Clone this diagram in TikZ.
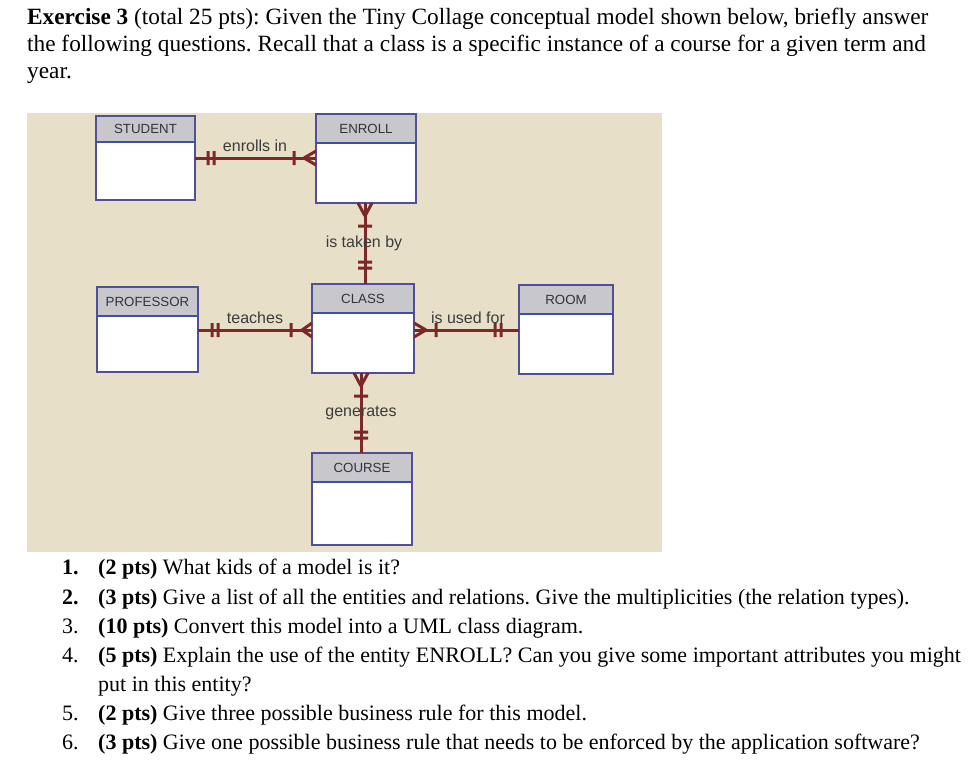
\documentclass[tikz,border=0pt]{standalone}
\usepackage{fontspec}
\setmainfont{Liberation Serif}
\newfontfamily\dsans{Liberation Sans}
\definecolor{relc}{RGB}{125,40,40}
\definecolor{labc}{RGB}{60,60,60}
\definecolor{hdc}{RGB}{50,50,60}
\definecolor{bgc}{RGB}{232,223,200}
\definecolor{hfill}{RGB}{200,200,204}
\definecolor{ebord}{RGB}{80,80,150}
\definecolor{hline}{RGB}{60,80,170}
\begin{document}
\frenchspacing
\begin{tikzpicture}[x=1pt,y=-1pt,
  rel/.style={draw=relc,line width=3pt},
  lab/.style={font=\dsans\fontsize{16}{16}\selectfont,text=labc,inner sep=0},
  hd/.style={font=\dsans\fontsize{13.3}{13}\selectfont,text=hdc,inner sep=0},
  tx/.style={anchor=base west,inner sep=0,font=\fontsize{23.3}{24}\selectfont},
  lt/.style={anchor=base west,inner sep=0,font=\fontsize{22}{22}\selectfont}]
\useasboundingbox (0,0) rectangle (976,765);
\fill[white] (0,0) rectangle (976,765);
\fill[bgc] (27,113) rectangle (662,552);
% entities
\def\entity#1#2#3#4#5#6#7{%
  \fill[white] (#2,#3) rectangle (#4,#5);
  \fill[hfill] (#2,#3) rectangle (#4,#6);
  \draw[ebord,line width=2pt] (#2,#3) rectangle (#4,#5);
  \draw[hline,line width=2pt] (#2,#6) -- (#4,#6);
  \node[hd] (#1) at ({(#2+#4)/2},{(#3+#6)/2}) {#7};
}
\entity{student}{96}{116}{195}{200}{142}{STUDENT}
\entity{enroll}{316}{114}{416}{203}{143}{ENROLL}
\entity{professor}{97}{287}{198}{372}{316}{PROFESSOR}
\entity{class}{312}{284}{414}{373}{313}{CLASS}
\entity{room}{519}{285}{613}{374}{314}{ROOM}
\entity{course}{312}{453}{412}{545}{482}{COURSE}
% relationships
\coordinate (a1) at (195,158); \coordinate (a2) at (316,158);
\draw[rel] (a1) -- (a2);
\draw[rel] (208,151)--(208,165) (214,151)--(214,165) (294,151)--(294,165)
  (304,158)--(316,151) (304,158)--(316,165);
\node[lab] (l1) at (255,146) {enrolls in};
\coordinate (b1) at (365,203); \coordinate (b2) at (365,284);
\draw[rel] (b1) -- (b2);
\draw[rel] (365,216)--(358,203) (365,216)--(372,203) (358,226)--(372,226)
  (358,262)--(372,262) (358,268)--(372,268);
\node[lab] (l2) at (364,243) {is taken by};
\coordinate (c1) at (198,330); \coordinate (c2) at (312,330);
\draw[rel] (c1) -- (c2);
\draw[rel] (212,323)--(212,337) (218,323)--(218,337) (291,323)--(291,337)
  (302,330)--(312,323) (302,330)--(312,337);
\node[lab] (l3) at (255,318) {teaches};
\coordinate (d1) at (414,330); \coordinate (d2) at (519,330);
\draw[rel] (d1) -- (d2);
\draw[rel] (426,330)--(414,323) (426,330)--(414,337) (436,323)--(436,337)
  (495,323)--(495,337) (501,323)--(501,337);
\node[lab] (l4) at (468,318) {is used for};
\coordinate (e1) at (361,373); \coordinate (e2) at (361,453);
\draw[rel] (e1) -- (e2);
\draw[rel] (361,386)--(354,373) (361,386)--(368,373) (354,396)--(368,396)
  (354,432)--(368,432) (354,438)--(368,438);
\node[lab] (l5) at (361,413) {generates};
% text
\node[tx] (t1) at (27,25) {\textbf{Exercise 3} (total 25 pts): Given the Tiny Collage conceptual model shown below, briefly answer};
\node[tx] (t2) at (27,52) {the following questions. Recall that a class is a specific instance of a course for a given term and};
\node[tx] (t3) at (27,79) {year.};
\node[lt] (n1) at (62,574) {\textbf{1.}}; \node[lt] (q1) at (98,574) {\textbf{(2 pts)} What kids of a model is it?};
\node[lt] (n2) at (62,604) {\textbf{2.}}; \node[lt] (q2) at (98,604) {\textbf{(3 pts)} Give a list of all the entities and relations. Give the multiplicities (the relation types).};
\node[lt] (n3) at (62,633) {3.}; \node[lt] (q3) at (98,633) {\textbf{(10 pts)} Convert this model into a UML class diagram.};
\node[lt] (n4) at (62,662) {4.}; \node[lt] (q4) at (98,662) {\textbf{(5 pts)} Explain the use of the entity ENROLL? Can you give some important attributes you might};
\node[lt] (q4b) at (98,691) {put in this entity?};
\node[lt] (n5) at (62,720) {5.}; \node[lt] (q5) at (98,720) {\textbf{(2 pts)} Give three possible business rule for this model.};
\node[lt] (n6) at (62,749) {6.}; \node[lt] (q6) at (98,749) {\textbf{(3 pts)} Give one possible business rule that needs to be enforced by the application software?};
\end{tikzpicture}
\end{document}
